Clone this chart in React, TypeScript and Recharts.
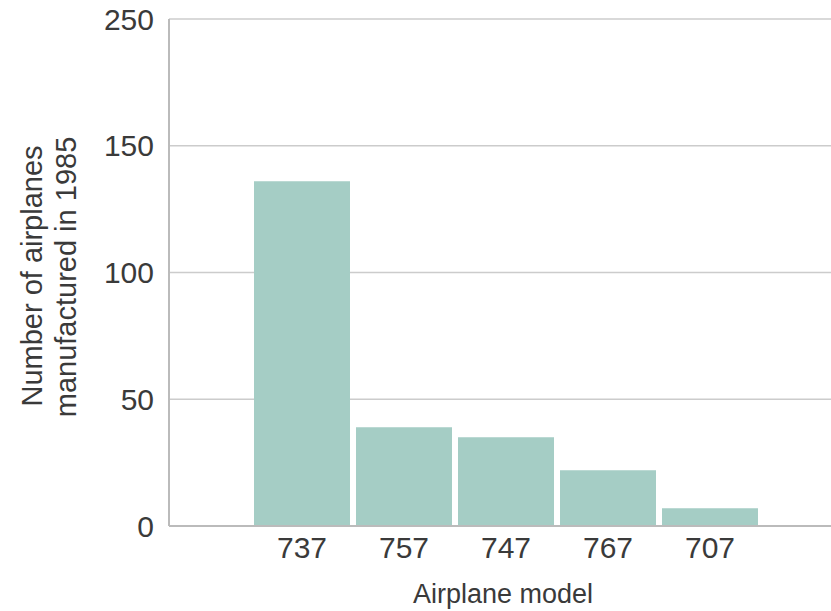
import { Bar, BarChart, CartesianGrid, XAxis, YAxis, Label } from "recharts"

const models = ["737", "757", "747", "767", "707"]
const counts = [136, 39, 35, 22, 7]
const yTicks = [0, 50, 100, 150, 200]
// the printed chart labels its top gridline "250"
const yTickLabels = ["0", "50", "100", "150", "250"]

const data = models.map((model, i) => ({ model, count: counts[i] }))

const font = "'Liberation Sans', Arial, sans-serif"

export default function App() {
  return (
    <div style={{ position: "absolute", left: 0, top: 0, background: "#fff" }}>
      <BarChart
        width={831}
        height={611}
        data={data}
        margin={{ top: 19, right: 0, bottom: 0, left: 0 }}
        barCategoryGap={3}
      >
        <CartesianGrid horizontal vertical={false} stroke="#cccccc" strokeWidth={1.5} />
        <XAxis
          dataKey="model"
          height={85}
          padding={{ left: 82, right: 70 }}
          tickLine={false}
          axisLine={{ stroke: "#bbbbbb", strokeWidth: 2 }}
          tick={{ fill: "#3a3a3a", fontSize: 30, fontFamily: font }}
          tickMargin={5}
        >
          <Label
            content={() => (
              <text
                x={503}
                y={603}
                textAnchor="middle"
                fontFamily={font}
                fontSize={27}
                fill="#3a3a3a"
              >
                Airplane model
              </text>
            )}
          />
        </XAxis>
        <YAxis
          width={169}
          domain={[0, 200]}
          ticks={yTicks}
          interval={0}
          tickLine={false}
          axisLine={{ stroke: "#bbbbbb", strokeWidth: 2 }}
          tick={{ fill: "#3a3a3a", fontSize: 30, fontFamily: font }}
          tickMargin={9}
          tickFormatter={(v: number) => yTickLabels[yTicks.indexOf(v)]}
        >
          <Label
            content={() => (
              <g fontFamily={font} fontSize={29} fill="#3a3a3a">
                <text x={42} y={276} textAnchor="middle" transform="rotate(-90 42 276)">
                  Number of airplanes
                </text>
                <text x={76} y={277} textAnchor="middle" transform="rotate(-90 76 277)">
                  manufactured in 1985
                </text>
              </g>
            )}
          />
        </YAxis>
        <Bar dataKey="count" fill="#a5cdc5" isAnimationActive={false} />
      </BarChart>
    </div>
  )
}
